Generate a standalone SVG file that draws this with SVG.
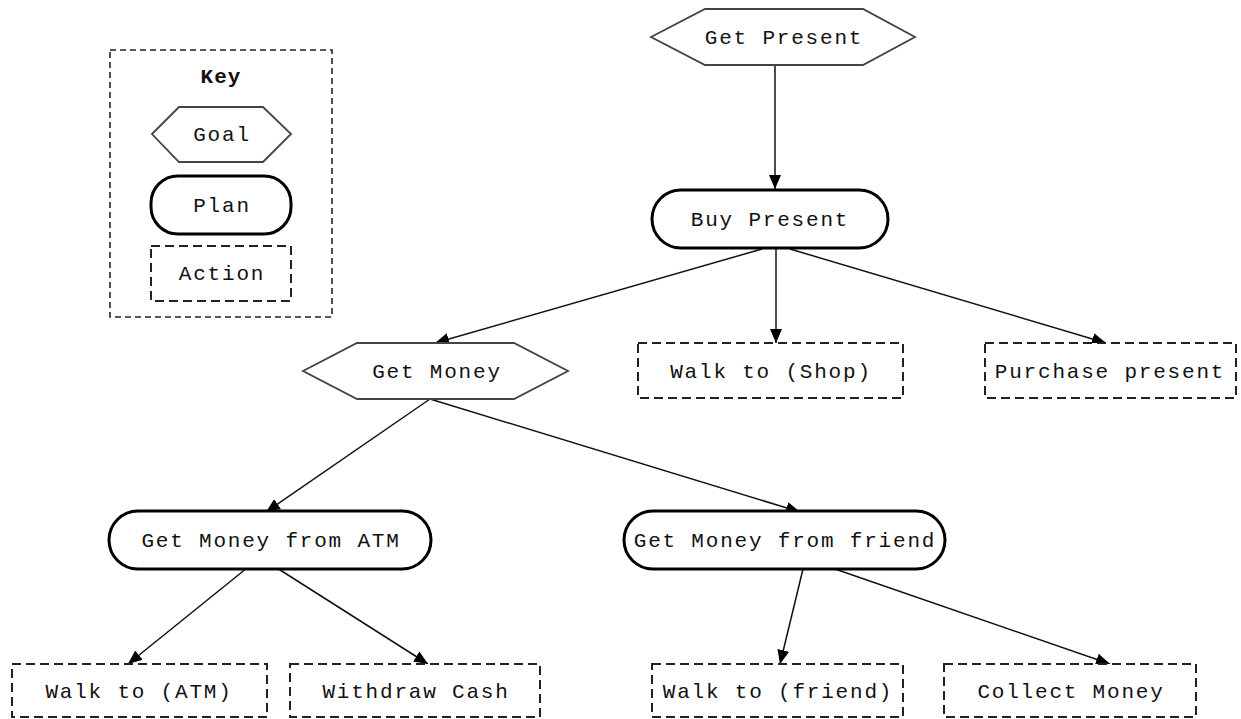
<svg xmlns="http://www.w3.org/2000/svg" width="1241" height="719" viewBox="0 0 1241 719">
  <defs>
    <marker id="arrow" markerUnits="userSpaceOnUse" markerWidth="14" markerHeight="12" refX="14" refY="6" orient="auto">
      <path d="M0,0 L14,6 L0,12 z" fill="#000"/>
    </marker>
    <style>
      text { font-family: "Liberation Mono", "Courier New", monospace; font-size: 21px; letter-spacing: 1.8px; fill: #111; text-anchor: middle; }
      .goal { fill: #fff; stroke: #444; stroke-width: 1.8; }
      .plan { fill: #fff; stroke: #000; stroke-width: 3; }
      .action { fill: #fff; stroke: #222; stroke-width: 2; stroke-dasharray: 9 5; }
      .edge { fill: none; stroke: #111; stroke-width: 1.5; marker-end: url(#arrow); }
      .keybox { fill: #fff; stroke: #222; stroke-width: 1.6; stroke-dasharray: 6 4; }
      .title { font-weight: bold; letter-spacing: 1px; }
    </style>
  </defs>
  <rect width="1241" height="719" fill="#fff"/>

  <!-- legend -->
  <g id="key">
    <rect class="keybox" x="110" y="50" width="222" height="267"/>
    <text class="title" x="221" y="83">Key</text>
    <polygon class="goal" points="152,134 179,107 263,107 291,134 263,162 179,162"/>
    <text x="222" y="141">Goal</text>
    <rect class="plan" x="151" y="176" width="140" height="58" rx="27" ry="27"/>
    <text x="222" y="212">Plan</text>
    <rect class="action" x="151" y="246" width="140" height="55"/>
    <text x="222" y="280">Action</text>
  </g>

  <!-- connectors -->
  <g id="connectors">
    <line class="edge" x1="775" y1="65" x2="775" y2="189"/>
    <line class="edge" x1="762" y1="249" x2="435" y2="343"/>
    <line class="edge" x1="776" y1="249" x2="776" y2="343"/>
    <line class="edge" x1="790" y1="249" x2="1106" y2="343"/>
    <line class="edge" x1="430" y1="399" x2="266" y2="512"/>
    <line class="edge" x1="430" y1="399" x2="800" y2="512"/>
    <line class="edge" x1="247" y1="568" x2="128" y2="664"/>
    <line class="edge" x1="277" y1="568" x2="428" y2="664"/>
    <line class="edge" x1="803" y1="569" x2="780" y2="664"/>
    <line class="edge" x1="835" y1="569" x2="1110" y2="664"/>
  </g>

  <!-- goals -->
  <g id="get-present">
    <polygon class="goal" points="651,37 705,9 863,9 915,37 863,65 705,65"/>
    <text x="784" y="44">Get Present</text>
  </g>
  <g id="get-money">
    <polygon class="goal" points="303,371 357,343 514,343 568,371 514,399 357,399"/>
    <text x="437" y="378">Get Money</text>
  </g>

  <!-- plans -->
  <g id="buy-present">
    <rect class="plan" x="652" y="190" width="236" height="58" rx="29" ry="29"/>
    <text x="770" y="226">Buy Present</text>
  </g>
  <g id="money-from-atm">
    <rect class="plan" x="109" y="511" width="322" height="58" rx="29" ry="29"/>
    <text x="271" y="547">Get Money from ATM</text>
  </g>
  <g id="money-from-friend">
    <rect class="plan" x="624" y="511" width="321" height="58" rx="29" ry="29"/>
    <text x="785" y="547">Get Money from friend</text>
  </g>

  <!-- actions -->
  <g id="walk-to-shop">
    <rect class="action" x="638" y="343" width="265" height="55"/>
    <text x="771" y="378">Walk to (Shop)</text>
  </g>
  <g id="purchase-present">
    <rect class="action" x="985" y="343" width="251" height="55"/>
    <text x="1110" y="378">Purchase present</text>
  </g>
  <g id="walk-to-atm">
    <rect class="action" x="12" y="664" width="255" height="53"/>
    <text x="139" y="698">Walk to (ATM)</text>
  </g>
  <g id="withdraw-cash">
    <rect class="action" x="290" y="664" width="250" height="53"/>
    <text x="416" y="698">Withdraw Cash</text>
  </g>
  <g id="walk-to-friend">
    <rect class="action" x="652" y="664" width="251" height="53"/>
    <text x="778" y="698">Walk to (friend)</text>
  </g>
  <g id="collect-money">
    <rect class="action" x="944" y="664" width="252" height="53"/>
    <text x="1071" y="698">Collect Money</text>
  </g>
</svg>
